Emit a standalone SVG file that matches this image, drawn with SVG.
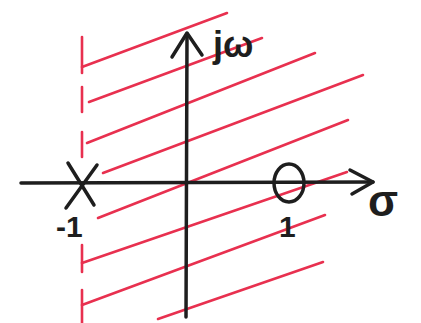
<svg xmlns="http://www.w3.org/2000/svg" width="421" height="323" viewBox="0 0 421 323">
  <style>
    .red { stroke: #e8304f; stroke-width: 2.6; stroke-linecap: round; fill: none; }
    .ink { stroke: #1e1e1e; stroke-width: 3.5; stroke-linecap: round; stroke-linejoin: round; fill: none; }
    .lbl { font-family: "Liberation Sans", Arial, sans-serif; font-weight: bold; fill: #1e1e1e; }
  </style>
  <rect width="421" height="323" fill="#ffffff"/>

  <g id="stability-boundary">
    <line class="red" x1="82" y1="37" x2="82" y2="73"/>
    <line class="red" x1="82" y1="87" x2="82" y2="112"/>
    <line class="red" x1="82" y1="132" x2="82" y2="157"/>
    <line class="red" x1="82" y1="245" x2="82" y2="272"/>
    <line class="red" x1="82" y1="290" x2="82" y2="323"/>
  </g>

  <g id="hatched-region">
    <line class="red" x1="82" y1="67" x2="227" y2="13"/>
    <line class="red" x1="89" y1="102" x2="262" y2="38"/>
    <line class="red" x1="87" y1="143" x2="315" y2="53"/>
    <line class="red" x1="103" y1="173" x2="363" y2="75"/>
    <line class="red" x1="98" y1="218" x2="348" y2="120"/>
    <line class="red" x1="82" y1="263" x2="347" y2="172"/>
    <line class="red" x1="82" y1="305" x2="325" y2="215"/>
    <line class="red" x1="158" y1="319" x2="323" y2="262"/>
  </g>

  <g id="connectors">
    <line class="ink" x1="21" y1="183" x2="373" y2="182"/>
    <polyline class="ink" points="350,170 373,182 352,194"/>
    <line class="ink" x1="186" y1="317" x2="187" y2="34"/>
    <polyline class="ink" points="172,57 187,33 202,55"/>
  </g>

  <g id="pole">
    <line class="ink" x1="68" y1="163" x2="94" y2="205" stroke-width="4.2"/>
    <line class="ink" x1="97" y1="165" x2="66" y2="208" stroke-width="4.2"/>
    <text class="lbl" x="56" y="237" font-size="30">-1</text>
  </g>

  <g id="zero">
    <ellipse class="ink" cx="289" cy="183" rx="15" ry="19" stroke-width="4"/>
    <text class="lbl" x="279" y="237" font-size="30">1</text>
  </g>

  <g id="axis-labels">
    <text class="lbl" x="213" y="57" font-size="36">jω</text>
    <text class="lbl" x="368" y="216" font-size="44">σ</text>
  </g>
</svg>
